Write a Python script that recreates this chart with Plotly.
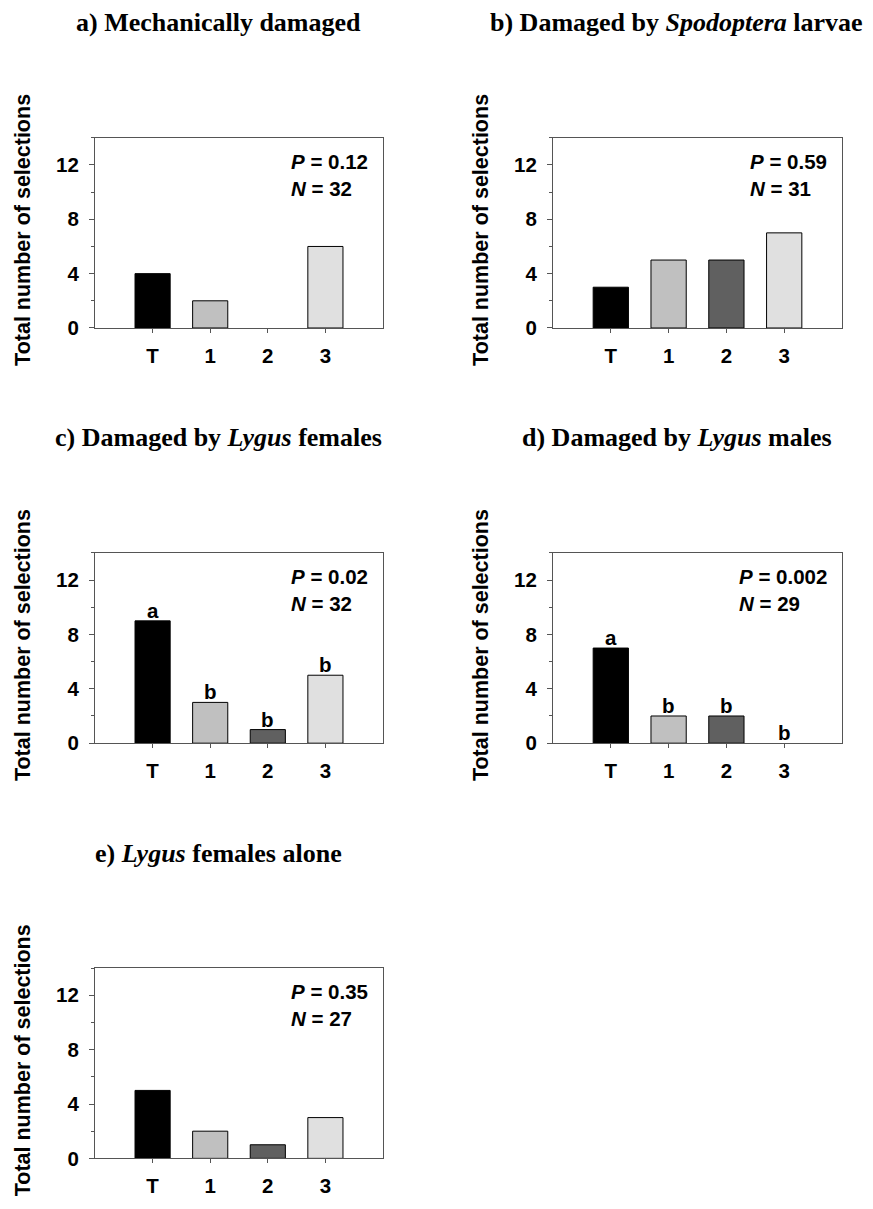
import plotly.graph_objects as go

# ---------------- data ----------------
categories = ["T", "1", "2", "3"]
values_a = [4, 2, 0, 6]
values_b = [3, 5, 5, 7]
values_c = [9, 3, 1, 5]
values_d = [7, 2, 2, 0]
values_e = [5, 2, 1, 3]
letters_c = ["a", "b", "b", "b"]
letters_d = ["a", "b", "b", "b"]
p_values = ["0.12", "0.59", "0.02", "0.002", "0.35"]
n_values = ["32", "31", "32", "29", "27"]
titles = [
    "a) Mechanically damaged",
    "b) Damaged by <i>Spodoptera</i> larvae",
    "c) Damaged by <i>Lygus</i> females",
    "d) Damaged by <i>Lygus</i> males",
    "e) <i>Lygus</i> females alone",
]
y_ticks = [0, 4, 8, 12]
y_label = "Total number of selections"

series = [values_a, values_b, values_c, values_d, values_e]
letters = [None, None, letters_c, letters_d, None]

# ---------------- layout geometry (pixels) ----------------
W, H = 873, 1209
col_left = [95, 553]
col_right = [383, 842]
row_top = [139, 558, 977]
box_h = 192
panel_pos = [(0, 0), (1, 0), (0, 1), (1, 1), (0, 2)]  # (col, row)

bar_colors = ["#000000", "#c0c0c0", "#606060", "#e0e0e0"]
axis_col = "#555555"
sans = "Liberation Sans, Arial, sans-serif"
serif = "Liberation Serif, Times New Roman, serif"

fig = go.Figure()
annotations = []
layout = dict(
    width=W, height=H, margin=dict(l=0, r=0, t=0, b=0),
    paper_bgcolor="white", plot_bgcolor="white", showlegend=False,
)

for i, vals in enumerate(series):
    col, row = panel_pos[i]
    k = "" if i == 0 else str(i + 1)
    xa, ya = "x" + k, "y" + k
    x0, x1 = col_left[col], col_right[col]
    t = row_top[row]
    b = t + box_h
    xdom = [x0 / W, x1 / W]
    ydom = [1 - b / H, 1 - t / H]

    fig.add_trace(go.Bar(
        x=categories, y=vals, xaxis=xa, yaxis=ya, width=0.61,
        marker=dict(color=bar_colors,
                    line=dict(color="#000000", width=[1 if v > 0 else 0 for v in vals])),
        hoverinfo="x+y",
    ))

    layout["xaxis" + k] = dict(
        domain=xdom, anchor=ya, type="category", range=[-1, 4],
        showline=True, mirror=True, linecolor=axis_col, linewidth=1,
        ticks="outside", ticklen=4, tickcolor=axis_col, tickwidth=1,
        ticklabelstandoff=5,
        showgrid=False, zeroline=False, fixedrange=True,
        tickfont=dict(family=sans, size=20.5, color="#000000", weight="bold"),
    )
    layout["yaxis" + k] = dict(
        domain=ydom, anchor=xa, range=[0, 14],
        tickvals=y_ticks,
        showline=True, mirror=True, linecolor=axis_col, linewidth=1,
        ticks="outside", ticklen=5, tickcolor=axis_col, tickwidth=1,
        minor=dict(ticks="outside", ticklen=3, dtick=2, tickcolor=axis_col, showgrid=False),
        ticklabelstandoff=6,
        showgrid=False, zeroline=False, fixedrange=True,
        tickfont=dict(family=sans, size=20.5, color="#000000", weight="bold"),
    )

    # panel title
    cx = (x0 + x1) / 2 - 21
    annotations.append(dict(
        text="<b>" + titles[i] + "</b>", xref="paper", yref="paper",
        x=cx / W, y=1 - (t - 116) / H, xanchor="center", yanchor="middle",
        showarrow=False, font=dict(family=serif, size=26, color="#000000"),
    ))
    # y-axis title
    annotations.append(dict(
        text="<b>" + y_label + "</b>", xref="paper", yref="paper",
        x=(x0 - 72) / W, y=1 - (t + box_h / 2 - 3) / H,
        xanchor="center", yanchor="middle", textangle=-90,
        showarrow=False, font=dict(family=sans, size=21.5, color="#000000"),
    ))
    # statistics
    annotations.append(dict(
        text="<b><i>P</i> = " + p_values[i] + "<br><i>N</i> = " + n_values[i] + "</b>",
        xref="paper", yref="paper", x=(x1 - 13) / W, y=1 - t / H,
        xanchor="right", yanchor="top", yshift=-10, align="left",
        showarrow=False, font=dict(family=sans, size=20.5, color="#000000"),
    ))
    # significance letters
    if letters[i] is not None:
        for c, v, lt in zip(categories, vals, letters[i]):
            annotations.append(dict(
                text="<b>" + lt + "</b>", xref=xa, yref=ya, x=c, y=v,
                xanchor="center", yanchor="bottom", yshift=-3,
                showarrow=False, font=dict(family=sans, size=20.5, color="#000000"),
            ))

layout["annotations"] = annotations
fig.update_layout(**layout)
fig.write_html("out.html")
